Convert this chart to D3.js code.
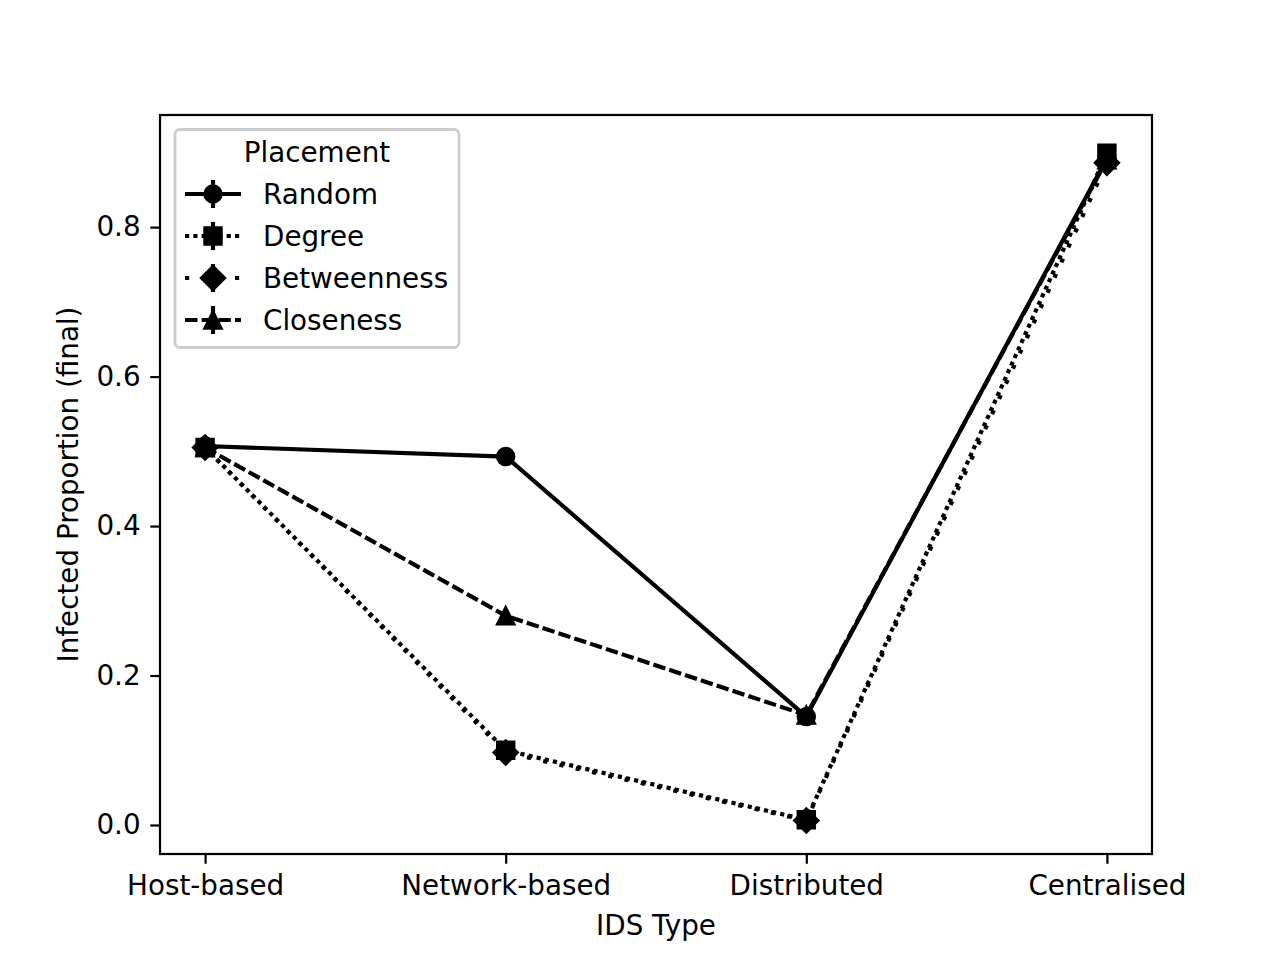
<!DOCTYPE html>
<html><head><meta charset="utf-8">
<script src="https://cdn.jsdelivr.net/npm/d3@7"></script>
<style>body{margin:0;background:#fff}svg{display:block}text{font-family:"DejaVu Sans",sans-serif;fill:#000}</style>
</head><body>
<svg id="c" width="1280" height="960"></svg>
<script>
const categories = ["Host-based", "Network-based", "Distributed", "Centralised"];
const seriesNames = ["Random", "Degree", "Betweenness", "Closeness"];
const random = [0.507, 0.493, 0.145, 0.892];
const degree = [0.505, 0.100, 0.007, 0.899];
const betweenness = [0.505, 0.097, 0.006, 0.886];
const closeness = [0.505, 0.280, 0.147, 0.890];
const errRandom = [0.004, 0.004, 0.004, 0.004];
const errDegree = [0.004, 0.004, 0.002, 0.003];
const errBetweenness = [0.004, 0.004, 0.002, 0.003];
const errCloseness = [0.004, 0.004, 0.004, 0.004];
const yTicks = [0.0, 0.2, 0.4, 0.6, 0.8];

const S = 200/72; // px per pt
const fs = 10*S;
const lw = 1.5*S;
const ms = 6*S;
const series = [
  {name: seriesNames[0], vals: random, err: errRandom, dash: null, marker: "o"},
  {name: seriesNames[1], vals: degree, err: errDegree, dash: [1*lw, 1*lw], marker: "s"},
  {name: seriesNames[2], vals: betweenness, err: errBetweenness, dash: [1*lw, 3*lw], marker: "D"},
  {name: seriesNames[3], vals: closeness, err: errCloseness, dash: [3*lw, 1*lw], marker: "^"}
];

const L = 160, R = 1152, T = 115, B = 854;
const svg = d3.select("#c");
const x = d3.scaleLinear().domain([-0.15, categories.length - 1 + 0.15]).range([L, R]);
const y = d3.scaleLinear().domain([-0.0388, 0.950]).range([B, T]);

function markerPath(m) {
  const h = ms/2;
  if (m === "o") return d3.symbol().type(d3.symbolCircle).size(Math.PI*h*h)();
  if (m === "s") return `M${-h},${-h}H${h}V${h}H${-h}Z`;
  if (m === "D") { const d = h*Math.SQRT2; return `M0,${-d}L${d},0L0,${d}L${-d},0Z`; }
  if (m === "^") return `M0,${-h}L${h},${h}L${-h},${h}Z`;
}

// axes ticks
const xAxis = d3.axisBottom(x).tickValues(d3.range(categories.length)).tickFormat(i => categories[i])
  .tickSize(3.5*S).tickPadding(3.5*S + 2);
const yAxis = d3.axisLeft(y).tickValues(yTicks).tickFormat(d3.format(".1f"))
  .tickSize(3.5*S).tickPadding(3.5*S);
const gx = svg.append("g").attr("transform", `translate(0,${B})`).call(xAxis);
const gy = svg.append("g").attr("transform", `translate(${L},0)`).call(yAxis);
[gx, gy].forEach(g => {
  g.select(".domain").remove();
  g.selectAll(".tick line").attr("stroke", "#000").attr("stroke-width", 0.8*S);
  g.selectAll(".tick text").attr("font-size", fs).attr("font-family", "DejaVu Sans").attr("fill", "#000");
});

// data
svg.append("clipPath").attr("id", "clp").append("rect").attr("x", L).attr("y", T).attr("width", R-L).attr("height", B-T);
const plot = svg.append("g").attr("clip-path", "url(#clp)");
const line = d3.line().x((d, i) => x(i)).y(d => y(d));
series.forEach(s => {
  plot.append("g").selectAll("line").data(s.vals).join("line")
    .attr("x1", (d, i) => x(i)).attr("x2", (d, i) => x(i))
    .attr("y1", (d, i) => y(d - s.err[i])).attr("y2", (d, i) => y(d + s.err[i]))
    .attr("stroke", "#000").attr("stroke-width", lw);
  plot.append("path").attr("d", line(s.vals)).attr("fill", "none").attr("stroke", "#000")
    .attr("stroke-width", lw).attr("stroke-linejoin", "round")
    .attr("stroke-linecap", s.dash ? "butt" : "square")
    .attr("stroke-dasharray", s.dash ? s.dash.join(",") : null);
  plot.append("g").selectAll("path").data(s.vals).join("path")
    .attr("transform", (d, i) => `translate(${x(i)},${y(d)})`)
    .attr("d", markerPath(s.marker)).attr("fill", "#000").attr("stroke", "#000").attr("stroke-width", 1*S);
});

// frame
svg.append("rect").attr("x", L).attr("y", T).attr("width", R-L).attr("height", B-T)
  .attr("fill", "none").attr("stroke", "#000").attr("stroke-width", 0.8*S);

// labels
svg.append("text").attr("x", (L+R)/2).attr("y", 935).attr("text-anchor", "middle").attr("font-size", fs).text("IDS Type");
svg.append("text").attr("transform", `translate(78,${(T+B)/2}) rotate(-90)`).attr("text-anchor", "middle")
  .attr("font-size", fs).text("Infected Proportion (final)");

// legend
const lg = svg.append("g");
lg.append("rect").attr("x", 175).attr("y", 129.5).attr("width", 284).attr("height", 218).attr("rx", 5)
  .attr("fill", "#fff").attr("fill-opacity", 0.8).attr("stroke", "#cccccc").attr("stroke-width", 1*S);
lg.append("text").attr("x", 317).attr("y", 162).attr("text-anchor", "middle").attr("font-size", fs).text("Placement");
series.forEach((s, k) => {
  const cy = 194 + k*42;
  const g = lg.append("g");
  g.append("line").attr("x1", 185).attr("x2", 241).attr("y1", cy).attr("y2", cy)
    .attr("stroke", "#000").attr("stroke-width", lw)
    .attr("stroke-dasharray", s.dash ? s.dash.join(",") : null);
  g.append("line").attr("x1", 213).attr("x2", 213).attr("y1", cy-14).attr("y2", cy+14)
    .attr("stroke", "#000").attr("stroke-width", lw);
  g.append("path").attr("transform", `translate(213,${cy})`).attr("d", markerPath(s.marker))
    .attr("fill", "#000").attr("stroke", "#000").attr("stroke-width", 1*S);
  g.append("text").attr("x", 263).attr("y", cy + 10).attr("font-size", fs).text(s.name);
});
</script>
</body></html>
